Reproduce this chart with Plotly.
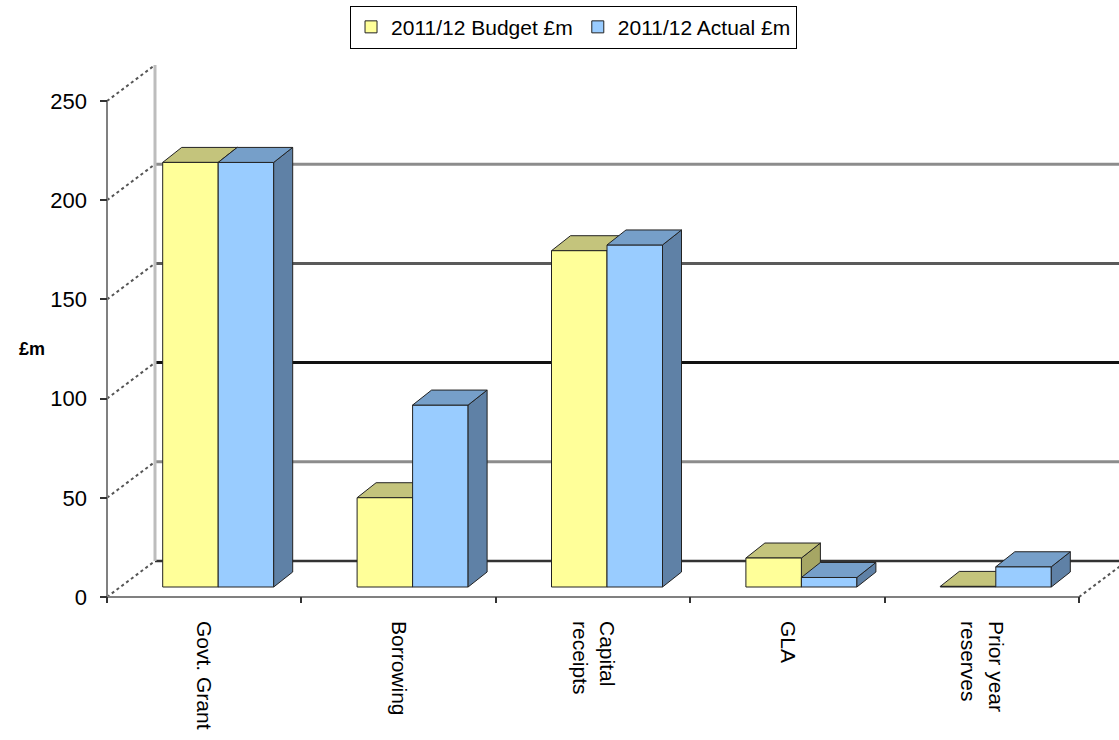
import plotly.graph_objects as go

# ---------------- data ----------------
categories = ["Govt. Grant", "Borrowing", "Capital receipts", "GLA", "Prior year reserves"]
tick_labels = ["Govt. Grant", "Borrowing", "Capital<br>receipts", "GLA", "Prior year<br>reserves"]
budget = [214.0, 45.0, 169.5, 14.6, 0.3]
actual = [214.0, 91.7, 172.4, 4.8, 10.2]
y_ticks = [0, 50, 100, 150, 200, 250]
grid_values = [0, 50, 100, 150, 200]
series_names = ["2011/12 Budget £m", "2011/12 Actual £m"]

# ---------------- styling / geometry constants (pixels -> axis units) ----------------
PX_PER_CAT = 194.4
PX_PER_UNIT = 1.984


def ux(px):
    return px / PX_PER_CAT


def uy(px):
    return px / PX_PER_UNIT


WALL_DX, WALL_DY = ux(48), uy(36)      # depth of the floor / walls
PLANE_DX, PLANE_DY = ux(14), uy(10)    # plane the bars stand on
BAR_W = ux(55.5)
BAR_DX, BAR_DY = ux(19), uy(15)        # depth of each bar

x_range = [-0.5 - ux(7), -0.5 + ux(1119 - 107)]
y_range = [-uy(6), uy(597 - 60)]

FONT = "Liberation Sans, Arial, sans-serif"
EDGE = "#222222"
COLORS = {
    "budget": dict(front="#FFFF99", top="#C4C47C", side="#A6A664"),
    "actual": dict(front="#99CCFF", top="#769FC9", side="#5F81A6"),
}

n = len(categories)
x_budget = [i + PLANE_DX - BAR_W / 2 for i in range(n)]
x_actual = [i + PLANE_DX + BAR_W / 2 for i in range(n)]

fig = go.Figure()
fig.add_trace(go.Bar(
    x=x_budget, y=budget, base=PLANE_DY, width=BAR_W, name=series_names[0],
    marker=dict(color=COLORS["budget"]["front"], line=dict(color=EDGE, width=1)),
    customdata=categories, hovertemplate="%{customdata}: %{y}<extra></extra>",
))
fig.add_trace(go.Bar(
    x=x_actual, y=actual, base=PLANE_DY, width=BAR_W, name=series_names[1],
    marker=dict(color=COLORS["actual"]["front"], line=dict(color=EDGE, width=1)),
    customdata=categories, hovertemplate="%{customdata}: %{y}<extra></extra>",
))

shapes = []
# back wall gridlines
grid_colors = {0: "#333333", 50: "#8C8C8C", 100: "#111111", 150: "#5A5A5A", 200: "#8C8C8C"}
for v in grid_values:
    shapes.append(dict(type="line", xref="x", yref="y", layer="below",
                       x0=-0.5 + WALL_DX, x1=x_range[1] + 1, y0=v + WALL_DY, y1=v + WALL_DY,
                       line=dict(color=grid_colors[v], width=3 if v else 2.5)))
# left wall back edge
shapes.append(dict(type="line", xref="x", yref="y", layer="below",
                   x0=-0.5 + WALL_DX, x1=-0.5 + WALL_DX, y0=WALL_DY, y1=y_ticks[-1] + WALL_DY,
                   line=dict(color="#BDBDBD", width=3)))
# left wall diagonals
for v in y_ticks:
    shapes.append(dict(type="line", xref="x", yref="y", layer="below",
                       x0=-0.5, x1=-0.5 + WALL_DX, y0=v, y1=v + WALL_DY,
                       line=dict(color="#555555", width=2, dash="dot")))
# floor right edge
shapes.append(dict(type="line", xref="x", yref="y", layer="below",
                   x0=n - 0.5, x1=n - 0.5 + WALL_DX, y0=0, y1=WALL_DY,
                   line=dict(color="#555555", width=2, dash="dot")))
# front axes lines
shapes.append(dict(type="line", xref="x", yref="y", layer="below",
                   x0=-0.5, x1=-0.5, y0=0, y1=y_ticks[-1],
                   line=dict(color="#808080", width=2)))
shapes.append(dict(type="line", xref="x", yref="y", layer="below",
                   x0=-0.5, x1=n - 0.5, y0=0, y1=0,
                   line=dict(color="#808080", width=2)))


def bar_faces(xc, value, cols, layer):
    xl, xr = xc - BAR_W / 2, xc + BAR_W / 2
    yb, yt = PLANE_DY, PLANE_DY + value
    top = (f"M{xl},{yt} L{xr},{yt} L{xr + BAR_DX},{yt + BAR_DY} "
           f"L{xl + BAR_DX},{yt + BAR_DY} Z")
    side = (f"M{xr},{yb} L{xr},{yt} L{xr + BAR_DX},{yt + BAR_DY} "
            f"L{xr + BAR_DX},{yb + BAR_DY} Z")
    return [
        dict(type="path", path=side, xref="x", yref="y", layer=layer,
             fillcolor=cols["side"], line=dict(color=EDGE, width=1)),
        dict(type="path", path=top, xref="x", yref="y", layer=layer,
             fillcolor=cols["top"], line=dict(color=EDGE, width=1)),
    ]


for i in range(n):
    shapes += bar_faces(x_budget[i], budget[i], COLORS["budget"], "below")
for i in range(n):
    shapes += bar_faces(x_actual[i], actual[i], COLORS["actual"], "above")

fig.update_layout(
    width=1119, height=740,
    margin=dict(l=100, r=0, t=60, b=137),
    paper_bgcolor="white", plot_bgcolor="white",
    barmode="overlay",
    font=dict(family=FONT, size=20, color="black"),
    showlegend=True,
    legend=dict(orientation="h", x=0.4647, xanchor="center", y=1.1, yanchor="top",
                bgcolor="white", bordercolor="black", borderwidth=1,
                font=dict(family=FONT, size=21, color="black"),
                traceorder="normal"),
    xaxis=dict(range=x_range, tickmode="array", tickvals=list(range(n)), ticktext=tick_labels,
               ticks="", tickangle=90, showline=False, showgrid=False, zeroline=False,
               ticklabelstandoff=17, tickfont=dict(size=21),
               minor=dict(tickmode="linear", tick0=-0.5, dtick=1, ticks="inside",
                          ticklen=6, tickcolor="#333333", tickwidth=1.5, showgrid=False)),
    yaxis=dict(range=y_range, tickmode="array", tickvals=y_ticks, ticks="inside",
               ticklen=7, tickcolor="#333333", tickwidth=1.5, showline=False,
               showgrid=False, zeroline=False, ticklabelstandoff=12,
               tickfont=dict(size=22)),
    shapes=shapes,
    annotations=[dict(text="<b>£m</b>", xref="paper", yref="paper",
                      x=-0.0667, y=0.4678, xanchor="center", yanchor="middle",
                      showarrow=False, font=dict(size=18, family=FONT, color="black"))],
)

fig.write_html("out.html")
